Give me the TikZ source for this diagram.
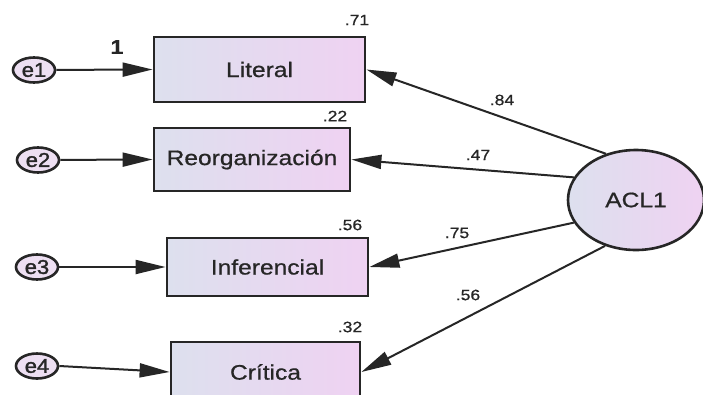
\documentclass[tikz,border=0pt]{standalone}
\usepackage{fontspec}
\usetikzlibrary{arrows.meta,shapes.geometric}
\newfontfamily\dfont[FakeStretch=1.17,FakeBold=0.8]{Liberation Sans}
\newfontfamily\efont[FakeStretch=1.1,FakeBold=1.6]{Liberation Sans}
\definecolor{ink}{HTML}{262626}
\definecolor{fillL}{HTML}{DDE0EE}
\definecolor{fillR}{HTML}{EFD2F2}
\definecolor{errfill}{HTML}{EDDFF2}
\tikzset{
  obs/.style={draw=ink, line width=2.8pt, left color=fillL, right color=fillR, inner sep=0pt,
    font=\dfont\fontsize{21}{23}\selectfont, text=ink},
  err/.style={draw=ink, line width=2.6pt, fill=errfill, ellipse, minimum width=42pt, minimum height=25pt,
    inner sep=0pt, font=\efont\fontsize{20}{22}\selectfont, text=ink},
  lat/.style={draw=ink, line width=2.6pt, ellipse, left color=fillL, right color=fillR,
    minimum width=136pt, minimum height=100pt, inner sep=0pt, font=\dfont\fontsize{21}{23}\selectfont, text=ink},
  path/.style={draw=ink, line width=2pt, -{Triangle[length=30pt,width=14pt]}},
  coef/.style={font=\dfont\fontsize{15}{17}\selectfont, text=ink, inner sep=0pt},
}
\begin{document}
\begin{tikzpicture}[x=1pt,y=-1pt]
\useasboundingbox (0,0) rectangle (703,394);
\clip (0,0) rectangle (703,394);
\fill[white] (0,0) rectangle (703,394);
% observed variables
\node[obs, minimum width=211pt, minimum height=65pt] (lit) at (259.5,69.5) {Literal};
\node[obs, minimum width=196pt, minimum height=63pt] (reo) at (252,159.5) {Reorganización};
\node[obs, minimum width=201pt, minimum height=58pt] (inf) at (267.5,267) {Inferencial};
\node[obs, minimum width=189pt, minimum height=60pt] (cri) at (265.5,372) {Crítica};
% errors
\node[err] (e1) at (34,70) {e1};
\node[err] (e2) at (38,160) {e2};
\node[err] (e3) at (37,267) {e3};
\node[err] (e4) at (37,366) {e4};
% latent
\node[lat] (acl) at (636,200) {ACL1};
% error paths
\draw[path] (e1) -- (lit.west);
\draw[path] (e2) -- (reo.west);
\draw[path] (e3) -- (inf.west);
\draw[path] (e4.east) -- (cri.west);
% loadings
\draw[path] (acl.123) -- (lit.east);
\draw[path] (acl.160) -- (reo.east);
\draw[path] (acl.200) -- (inf.east);
\draw[path] (acl.236) -- (cri.east);
% labels
\node[font=\dfont\bfseries\fontsize{20}{22}\selectfont, text=ink, inner sep=0pt] (one) at (117,47) {1};
\node[coef] (r1) at (357,20) {.71};
\node[coef] (r2) at (335,116) {.22};
\node[coef] (r3) at (350,225) {.56};
\node[coef] (r4) at (350,327) {.32};
\node[coef] (l1) at (502,100) {.84};
\node[coef] (l2) at (478,155) {.47};
\node[coef] (l3) at (457,233) {.75};
\node[coef] (l4) at (468,295) {.56};
\end{tikzpicture}
\end{document}
